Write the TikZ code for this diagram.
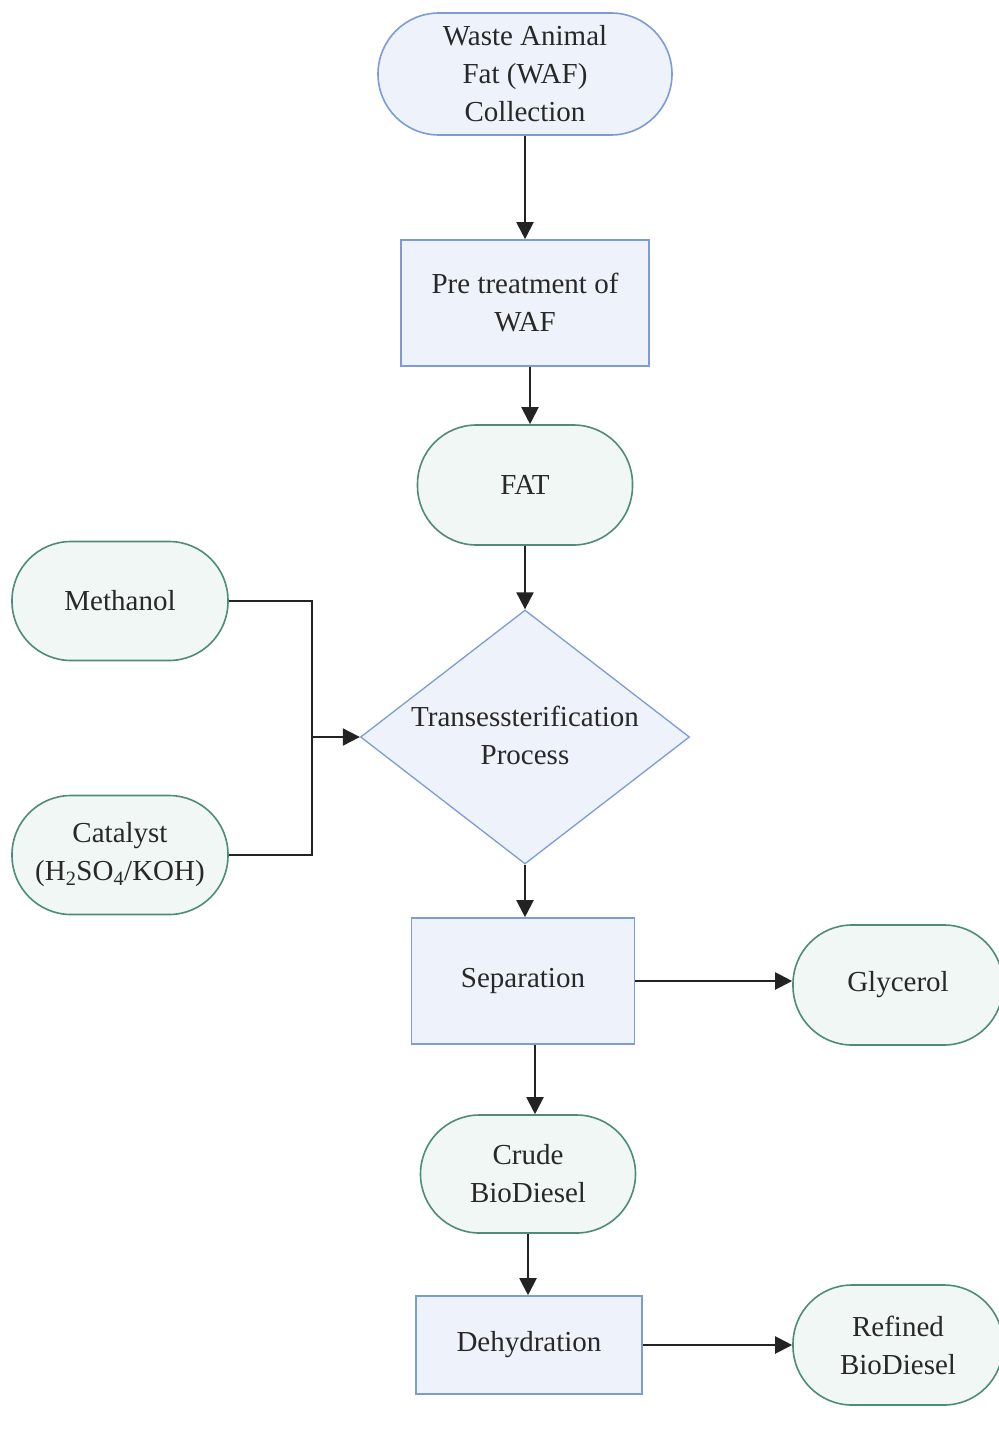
\documentclass[tikz,border=0pt]{standalone}
\usepackage{fontspec}
\setmainfont{Liberation Serif}
\usetikzlibrary{shapes.geometric,arrows.meta}
\definecolor{bborder}{RGB}{125,155,212}
\definecolor{bfill}{RGB}{238,243,251}
\definecolor{gborder}{RGB}{78,140,118}
\definecolor{gfill}{RGB}{240,247,245}
\definecolor{txt}{RGB}{40,40,40}
\definecolor{lineC}{RGB}{35,35,35}
\tikzset{
  base/.style={align=center, text=txt, font=\fontsize{29}{38}\selectfont, inner sep=0pt},
  bstadium/.style={base, draw=bborder, fill=bfill, line width=1.6pt, rounded corners=61pt},
  gstadium/.style={base, draw=gborder, fill=gfill, line width=1.6pt, rounded corners=59pt},
  procbox/.style={base, draw=bborder, fill=bfill, line width=1.6pt},
  decide/.style={base, diamond, draw=bborder, fill=bfill, line width=1.3pt, aspect=1.3},
  flow/.style={draw=lineC, line width=2pt, -{Triangle[length=17pt,width=17pt]}},
  plain/.style={draw=lineC, line width=2pt}
}
\begin{document}
\begin{tikzpicture}[x=1pt,y=-1pt]
\useasboundingbox[fill=white] (0,0) rectangle (998,1450);
\node[bstadium, minimum width=294pt, minimum height=122pt] (waf) at (525,74) {Waste Animal\\Fat (WAF)\\Collection};
\node[procbox, minimum width=248pt, minimum height=126pt] (pre) at (525,303) {Pre treatment of\\WAF};
\node[gstadium, minimum width=215pt, minimum height=120pt] (fat) at (525,485) {FAT};
\node[decide, minimum width=329pt, minimum height=254pt] (trans) at (525,737) {};
\node[base] at (525,735) {Transessterification\\Process};
\node[gstadium, minimum width=216pt, minimum height=119pt] (meth) at (120,601) {Methanol};
\node[gstadium, minimum width=216pt, minimum height=119pt] (cat) at (120,855) {Catalyst\\(H\textsubscript{2}SO\textsubscript{4}/KOH)};
\node[procbox, minimum width=223pt, minimum height=126pt] (sep) at (523,981) {Separation};
\node[gstadium, minimum width=210pt, minimum height=120pt] (gly) at (898,985) {Glycerol};
\node[gstadium, minimum width=215pt, minimum height=118pt] (crude) at (528,1174) {Crude\\BioDiesel};
\node[procbox, minimum width=226pt, minimum height=98pt] (dehy) at (529,1345) {Dehydration};
\node[gstadium, minimum width=210pt, minimum height=120pt] (ref) at (898,1345) {Refined\\BioDiesel};
\coordinate (jn) at (312,737);
\draw[flow] (waf.south) -- (pre.north);
\draw[flow] ([xshift=5pt]pre.south) -- ([xshift=5pt]pre.south |- fat.north);
\draw[flow] (fat.south) -- (trans.north);
\draw[plain] (meth.east) -| (jn) |- (cat.east);
\draw[flow] (jn) -- (trans.west);
\draw[flow] (trans.south) -- (trans.south |- sep.north);
\draw[flow] (sep.east) -- (sep.east -| gly.west);
\draw[flow] ([xshift=12pt]sep.south) -- ([xshift=12pt]sep.south |- crude.north);
\draw[flow] (crude.south) -- (crude.south |- dehy.north);
\draw[flow] (dehy.east) -- (ref.west);
\end{tikzpicture}
\end{document}
